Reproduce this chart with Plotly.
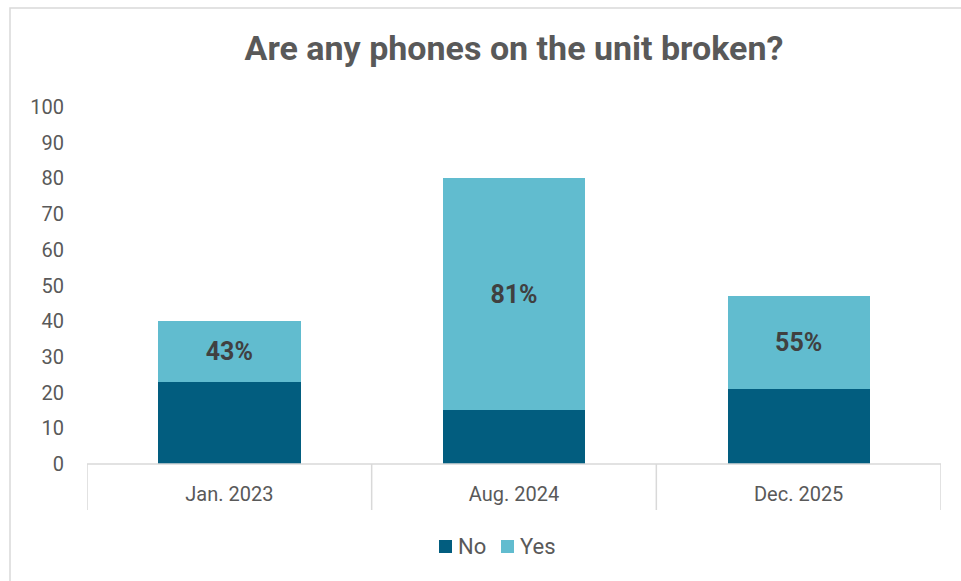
import plotly.graph_objects as go

# Survey results per period
periods = ["Jan. 2023", "Aug. 2024", "Dec. 2025"]
no_counts = [23, 15, 21]
yes_counts = [17, 65, 26]
y_ticks = [0, 10, 20, 30, 40, 50, 60, 70, 80, 90, 100]
series_names = ["No", "Yes"]

# Share of "Yes" answers in each period, rounded half-up
yes_share = [int(y / (n + y) * 100 + 0.5) for n, y in zip(no_counts, yes_counts)]

NO_COLOR = "#025D7F"
YES_COLOR = "#61BCCF"
TEXT = "#595959"
LINE = "#D9D9D9"
FONT = "Roboto"

fig = go.Figure()
fig.add_trace(go.Bar(
    x=periods, y=no_counts, name=series_names[0],
    marker=dict(color=NO_COLOR, line=dict(width=0)),
    hoverinfo="skip", showlegend=False,
))
fig.add_trace(go.Bar(
    x=periods, y=yes_counts, name=series_names[1],
    marker=dict(color=YES_COLOR, line=dict(width=0)),
    text=[f"{p}%" for p in yes_share],
    textposition="inside", insidetextanchor="middle",
    textfont=dict(family=FONT, size=25, color="#404040", weight="bold"),
    hoverinfo="skip", showlegend=False,
))

W, H = 961, 581
ML, MR, MT, MB = 87, 20, 107, 117
pw = W - ML - MR
ph = H - MT - MB

def px_x(p):
    return (p - ML) / pw

def px_y(p):
    return (H - MB - p) / ph

shapes = [
    # outer chart frame
    dict(type="rect", xref="paper", yref="paper",
         x0=px_x(10), x1=px_x(975), y0=px_y(595), y1=px_y(8),
         line=dict(color=LINE, width=1.5), layer="below"),
    # category axis line
    dict(type="line", xref="paper", yref="paper",
         x0=0, x1=1, y0=0, y1=0, line=dict(color=LINE, width=1.5)),
]
# category separators below the axis
for b in [-0.5, 0.5, 1.5, 2.5]:
    shapes.append(dict(type="line", xref="x", yref="paper",
                       x0=b, x1=b, y0=0, y1=px_y(510),
                       line=dict(color=LINE, width=1.5)))

# legend: colour keys and series names
annotations = []
legend_items = [(series_names[0], NO_COLOR, 439), (series_names[1], YES_COLOR, 501)]
for name, color, left in legend_items:
    shapes.append(dict(type="rect", xref="paper", yref="paper",
                       x0=px_x(left), x1=px_x(left + 13),
                       y0=px_y(553), y1=px_y(540),
                       fillcolor=color, line=dict(width=0)))
    annotations.append(dict(text=name, xref="paper", yref="paper",
                            x=px_x(left + 17), y=px_y(546),
                            xanchor="left", yanchor="middle", showarrow=False,
                            font=dict(family=FONT, size=22, color=TEXT)))

fig.update_layout(
    width=W, height=H,
    margin=dict(l=ML, r=MR, t=MT, b=MB),
    paper_bgcolor="white", plot_bgcolor="white",
    barmode="stack", bargap=0.5,
    font=dict(family=FONT, color=TEXT, size=20),
    title=dict(text="Are any phones on the unit broken?",
               x=0.5, xref="paper", xanchor="center",
               y=1 - 48 / H, yanchor="middle",
               font=dict(family=FONT, size=34, color=TEXT, weight="bold")),
    xaxis=dict(showgrid=False, showline=False, zeroline=False,
               ticks="", tickfont=dict(size=20, color=TEXT),
               ticklabelstandoff=16, range=[-0.5, 2.5]),
    yaxis=dict(range=[0, 100], tickvals=y_ticks, showgrid=False,
               showline=False, zeroline=False, ticks="",
               tickfont=dict(size=20, color=TEXT), ticklabelstandoff=22),
    showlegend=False,
    shapes=shapes,
    annotations=annotations,
)

fig.write_html("out.html")
